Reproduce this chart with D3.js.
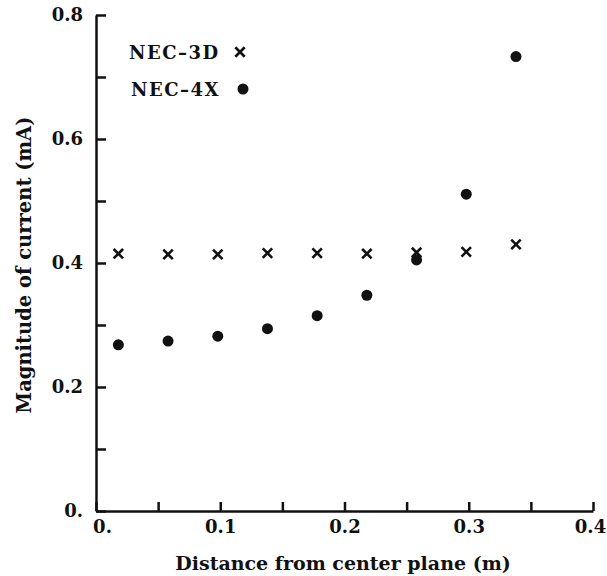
<!DOCTYPE html>
<html>
<head>
<meta charset="utf-8">
<script src="https://cdn.jsdelivr.net/npm/d3@7"></script>
<style>
  body { margin: 0; background: #fff; }
  text { font-family: "DejaVu Serif", serif; font-weight: bold; fill: #111; }
  .axis path, .axis line { stroke: #111; stroke-width: 2.5; }
</style>
</head>
<body>
<div class="scatter-plot"></div>
<script>
//Chart data.
var distance = [0.018, 0.058, 0.098, 0.138, 0.178, 0.218, 0.258, 0.298, 0.338];
var nec3d = [0.415, 0.414, 0.414, 0.416, 0.416, 0.415, 0.417, 0.418, 0.430];
var nec4x = [0.268, 0.274, 0.282, 0.294, 0.315, 0.348, 0.405, 0.511, 0.733];
var xTicks = [0, 0.05, 0.1, 0.15, 0.2, 0.25, 0.3, 0.35, 0.4];
var xTickLabels = ["0.", "", "0.1", "", "0.2", "", "0.3", "", "0.4"];
var yTicks = [0, 0.1, 0.2, 0.3, 0.4, 0.5, 0.6, 0.7, 0.8];
var yTickLabels = ["0.", "", "0.2", "", "0.4", "", "0.6", "", "0.8"];
var seriesNames = ["NEC\u20133D", "NEC\u20134X"];

//Define the SVG area dimensions.
var svgWidth = 607;
var svgHeight = 576;

var margin = { top: 15, right: 14, bottom: 65, left: 96 };
var chartWidth = svgWidth - margin.left - margin.right;
var chartHeight = svgHeight - margin.top - margin.bottom;

var svg = d3.select(".scatter-plot")
  .append("svg")
  .attr("width", svgWidth)
  .attr("height", svgHeight);

var chart = svg.append("g")
  .attr("transform", "translate(" + margin.left + "," + margin.top + ")");

//Scales.
var xScale = d3.scaleLinear().domain([0, 0.4]).range([0, chartWidth]);
var yScale = d3.scaleLinear().domain([0, 0.8]).range([chartHeight, 0]);

//Axes with ticks pointing into the plot.
var bottomAxis = d3.axisBottom(xScale)
  .tickValues(xTicks)
  .tickSize(-9)
  .tickSizeOuter(0)
  .tickPadding(9)
  .tickFormat(function(d, i) { return xTickLabels[i]; });

var leftAxis = d3.axisLeft(yScale)
  .tickValues(yTicks)
  .tickSize(-10)
  .tickSizeOuter(0)
  .tickPadding(13)
  .tickFormat(function(d, i) { return yTickLabels[i]; });

var xAxisG = chart.append("g")
  .attr("class", "axis")
  .attr("transform", "translate(0," + chartHeight + ")")
  .call(bottomAxis);

var yAxisG = chart.append("g")
  .attr("class", "axis")
  .call(leftAxis);

chart.selectAll(".axis text")
  .style("font-family", "DejaVu Serif")
  .style("font-weight", "bold")
  .style("font-size", "18px")
  .attr("fill", "#111");

//The "0." label sits a bit right of its tick, the last one a bit left.
xAxisG.selectAll(".tick text")
  .attr("dx", function(d) { return d === 0 ? 6 : (d === 0.4 ? -3 : 0); });

//Crosses for NEC-3D.
var cross = d3.symbol().type(d3.symbolTimes).size(60);

chart.selectAll(".nec3d")
  .data(distance)
  .enter().append("path")
  .attr("class", "nec3d")
  .attr("d", cross)
  .attr("transform", function(d, i) {
    return "translate(" + xScale(d) + "," + yScale(nec3d[i]) + ")";
  })
  .attr("fill", "none")
  .attr("stroke", "#111")
  .attr("stroke-width", 2.6);

//Dots for NEC-4X.
chart.selectAll(".nec4x")
  .data(distance)
  .enter().append("circle")
  .attr("class", "nec4x")
  .attr("cx", function(d) { return xScale(d); })
  .attr("cy", function(d, i) { return yScale(nec4x[i]); })
  .attr("r", 5.5)
  .attr("fill", "#111");

//Legend.
var legend = svg.append("g");

legend.append("text")
  .attr("x", 129)
  .attr("y", 59)
  .style("font-size", "18px")
  .style("letter-spacing", "1.5px")
  .text(seriesNames[0]);

legend.append("path")
  .attr("d", cross)
  .attr("transform", "translate(240,52)")
  .attr("fill", "none")
  .attr("stroke", "#111")
  .attr("stroke-width", 2.6);

legend.append("text")
  .attr("x", 131)
  .attr("y", 96)
  .style("font-size", "18px")
  .style("letter-spacing", "1.5px")
  .text(seriesNames[1]);

legend.append("circle")
  .attr("cx", 243)
  .attr("cy", 89)
  .attr("r", 5.5)
  .attr("fill", "#111");

//Axis titles.
svg.append("text")
  .attr("transform", "translate(31,265) rotate(-90)")
  .attr("text-anchor", "middle")
  .style("font-size", "19.5px")
  .text("Magnitude of current (mA)");

svg.append("text")
  .attr("x", 343)
  .attr("y", 570)
  .attr("text-anchor", "middle")
  .style("font-size", "19px")
  .text("Distance from center plane (m)");
</script>
</body>
</html>
